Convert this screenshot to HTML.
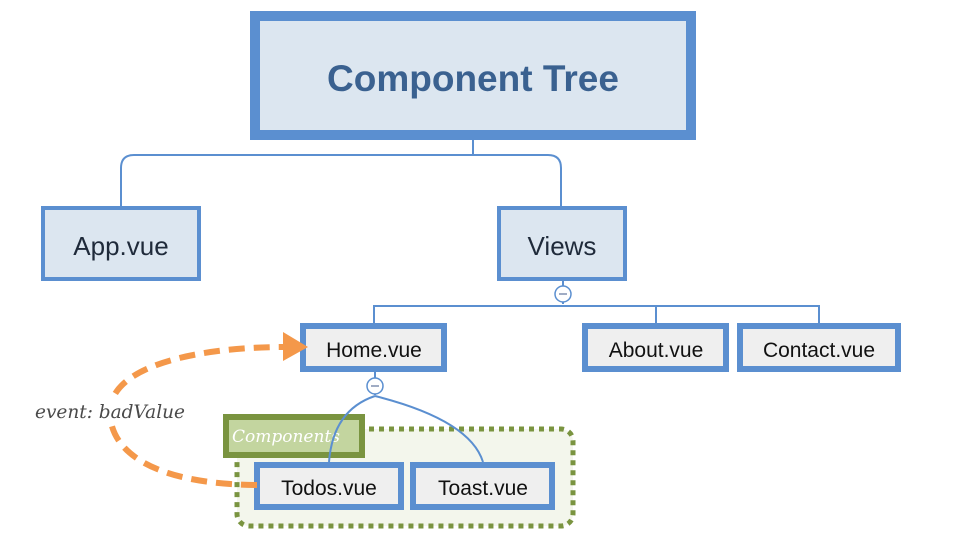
<!DOCTYPE html>
<html><head><meta charset="utf-8"><style>
html,body{margin:0;padding:0;background:#fff;}
svg{display:block;}
</style></head><body>
<svg width="961" height="543" viewBox="0 0 961 543" xmlns="http://www.w3.org/2000/svg">
<g fill="none" stroke="#5b8fd0" stroke-width="2">
<path d="M473 140 V155"/>
<path d="M121 206 V168 Q121 155 134 155 H548 Q561 155 561 168 V206"/>
<path d="M563 281 V304"/>
<path d="M374 323 V306 H819 V323"/>
<path d="M656 306 V323"/>
<path d="M375 372 V395"/>
</g>
<rect x="255" y="16" width="436" height="119" fill="#dce6f0" stroke="#5b8fd0" stroke-width="10"/>
<text x="473" y="91" text-anchor="middle" font-family="'Liberation Sans',sans-serif" font-weight="bold" font-size="37" fill="#3a6190">Component Tree</text>
<rect x="43" y="208" width="156" height="71" fill="#dce6f0" stroke="#5b8fd0" stroke-width="4"/>
<text x="121" y="255" text-anchor="middle" font-family="'Liberation Sans',sans-serif" font-size="26" fill="#1f2a3a">App.vue</text>
<rect x="499" y="208" width="126" height="71" fill="#dce6f0" stroke="#5b8fd0" stroke-width="4"/>
<text x="562" y="255" text-anchor="middle" font-family="'Liberation Sans',sans-serif" font-size="26" fill="#1f2a3a">Views</text>
<circle cx="563" cy="294" r="8" fill="#fff" stroke="#5b8fd0" stroke-width="1.5"/>
<line x1="559" y1="294" x2="567" y2="294" stroke="#8090b0" stroke-width="1.5"/>
<g font-family="'Liberation Sans',sans-serif" font-size="21" fill="#111" text-anchor="middle">
<rect x="303" y="326" width="141" height="43" fill="#efefef" stroke="#5b8fd0" stroke-width="6"/>
<text x="374" y="357">Home.vue</text>
<rect x="585" y="326" width="141" height="43" fill="#efefef" stroke="#5b8fd0" stroke-width="6"/>
<text x="656" y="357">About.vue</text>
<rect x="740" y="326" width="158" height="43" fill="#efefef" stroke="#5b8fd0" stroke-width="6"/>
<text x="819" y="357">Contact.vue</text>
</g>
<circle cx="375" cy="386" r="8" fill="#fff" stroke="#5b8fd0" stroke-width="1.5"/>
<line x1="371" y1="386" x2="379" y2="386" stroke="#8090b0" stroke-width="1.5"/>
<rect x="237" y="429" width="336" height="97" rx="12" fill="#f3f6ec" stroke="#7a9440" stroke-width="5" stroke-dasharray="5 5"/>
<rect x="226" y="417" width="136" height="38" fill="#c3d59f" stroke="#7a9440" stroke-width="6"/>
<text x="232" y="442" font-family="'DejaVu Serif',serif" font-style="italic" font-size="17" fill="#fff">Components</text>
<path d="M375 396 Q333 410 329 462" fill="none" stroke="#5b8fd0" stroke-width="2"/>
<path d="M375 396 Q470 420 483 462" fill="none" stroke="#5b8fd0" stroke-width="2"/>
<g font-family="'Liberation Sans',sans-serif" font-size="21" fill="#111" text-anchor="middle">
<rect x="257" y="465" width="144" height="42" fill="#efefef" stroke="#5b8fd0" stroke-width="6"/>
<text x="329" y="495">Todos.vue</text>
<rect x="413" y="465" width="139" height="42" fill="#efefef" stroke="#5b8fd0" stroke-width="6"/>
<text x="483" y="495">Toast.vue</text>
</g>
<path d="M257 485 C150 484 110 450 110 412 C110 365 200 347 285 347" fill="none" stroke="#f4984a" stroke-width="6" stroke-dasharray="16 9"/>
<polygon points="283,332 308,347 283,361" fill="#f4984a"/>
<rect x="98" y="400" width="28" height="22" fill="#fff"/>
<text x="35" y="418" font-family="'DejaVu Serif',serif" font-style="italic" font-size="18.5" fill="#4a4a4a">event: badValue</text>
</svg>
</body></html>
